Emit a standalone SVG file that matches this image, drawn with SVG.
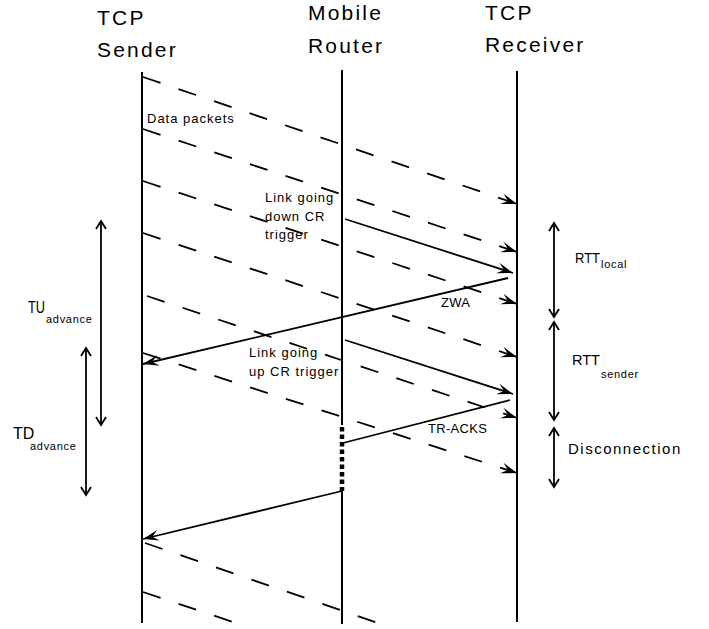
<svg xmlns="http://www.w3.org/2000/svg" width="709" height="629" viewBox="0 0 709 629">
<style>
  text { font-family: "Liberation Sans", Arial, sans-serif; fill: #000; }
  .hdr { font-size: 21px; letter-spacing: 2.2px; }
  .lbl { font-size: 13px; letter-spacing: 1px; }
  .lbl0 { font-size: 13px; letter-spacing: 0.3px; }
  .big { font-size: 16px; }
  .rtt { font-size: 14.5px; }
  .sub { font-size: 11px; letter-spacing: 0.7px; }
  .life { stroke: #000; stroke-width: 2; fill: none; }
  .dash { stroke: #000; stroke-width: 1.8; fill: none; stroke-dasharray: 18.5 19; marker-end: url(#arr); }
  .dashn { stroke: #000; stroke-width: 1.8; fill: none; stroke-dasharray: 18.5 19; }
  .msg { stroke: #000; stroke-width: 1.8; fill: none; }
  .dbl { stroke: #000; stroke-width: 1.8; fill: none; marker-start: url(#open); marker-end: url(#open); }
</style>
<defs>
  <marker id="arr" markerUnits="userSpaceOnUse" viewBox="-17 -7 19 14" markerWidth="19" markerHeight="14" refX="0" refY="0" orient="auto">
    <path d="M0,0 L-16,-5.5 L-9.5,0 L-16,5.5 Z" fill="#000"/>
  </marker>
  <marker id="open" markerUnits="userSpaceOnUse" viewBox="-11 -7 13 14" markerWidth="13" markerHeight="14" refX="0" refY="0" orient="auto-start-reverse">
    <path d="M-8,-5 L0,0 L-8,5" fill="none" stroke="#000" stroke-width="1.8"/>
  </marker>
</defs>

<g id="sender">
  <text class="hdr" x="97" y="25">TCP</text>
  <text class="hdr" x="97" y="57">Sender</text>
  <line class="life" x1="142" y1="72" x2="142" y2="623"/>
</g>
<g id="router">
  <text class="hdr" x="308" y="20">Mobile</text>
  <text class="hdr" x="308" y="53">Router</text>
  <line class="life" x1="342" y1="70" x2="342" y2="425"/>
  <line stroke="#000" stroke-width="4.5" stroke-dasharray="4.5 3" x1="342" y1="427" x2="342" y2="491"/>
  <line class="life" x1="342" y1="491" x2="342" y2="624"/>
</g>
<g id="receiver">
  <text class="hdr" x="485" y="20">TCP</text>
  <text class="hdr" x="485" y="52">Receiver</text>
  <line class="life" x1="517" y1="71" x2="517" y2="622"/>
</g>

<g id="connectors">
  <line class="dash" x1="143" y1="77" x2="517" y2="204"/>
  <line class="dash" x1="143" y1="129" x2="517" y2="252"/>
  <line class="dash" x1="143" y1="181" x2="517" y2="304"/>
  <line class="dash" x1="143" y1="233" x2="517" y2="357"/>
  <line class="dash" x1="147" y1="296" x2="517" y2="418"/>
  <line class="dash" x1="143" y1="353" x2="517" y2="473"/>
  <line class="dashn" x1="145" y1="543" x2="378" y2="623"/>
  <line class="dashn" x1="143" y1="592" x2="233" y2="622"/>

  <line class="msg" x1="345" y1="219" x2="513" y2="273" marker-end="url(#arr)"/>
  <line class="msg" x1="508" y1="278" x2="143" y2="364" marker-end="url(#arr)"/>
  <line class="msg" x1="345" y1="340" x2="513" y2="394" marker-end="url(#arr)"/>
  <line class="msg" x1="343" y1="443" x2="510" y2="400"/>
  <line class="msg" x1="342" y1="491" x2="143" y2="539" marker-end="url(#arr)"/>

  <line class="dbl" x1="101" y1="221" x2="101" y2="425"/>
  <line class="dbl" x1="86" y1="348" x2="86" y2="495"/>
  <line class="dbl" x1="554" y1="223" x2="554" y2="317"/>
  <line class="dbl" x1="554" y1="322" x2="554" y2="420"/>
  <line class="dbl" x1="554" y1="428" x2="554" y2="487"/>
</g>

<g id="labels">
  <text class="lbl" x="147" y="123">Data packets</text>
  <text class="lbl" x="265" y="202">Link going</text>
  <text class="lbl" x="265" y="221">down CR</text>
  <text class="lbl" x="265" y="239">trigger</text>
  <text class="lbl0" x="441" y="307">ZWA</text>
  <text class="lbl" x="249" y="357">Link going</text>
  <text class="lbl" x="249" y="376">up CR trigger</text>
  <text class="lbl0" x="428" y="433">TR-ACKS</text>
  <text class="big" x="28" y="313" textLength="17" lengthAdjust="spacingAndGlyphs">TU</text>
  <text class="sub" x="46" y="323">advance</text>
  <text class="big" x="13" y="439">TD</text>
  <text class="sub" x="30" y="450">advance</text>
  <text class="rtt" x="575" y="263" textLength="25" lengthAdjust="spacingAndGlyphs">RTT</text>
  <text class="sub" x="601" y="268">local</text>
  <text class="rtt" x="572" y="365">RTT</text>
  <text class="sub" x="601" y="378">sender</text>
  <text class="big" x="568" y="454" style="font-size:15px;letter-spacing:1.5px">Disconnection</text>
</g>
</svg>
